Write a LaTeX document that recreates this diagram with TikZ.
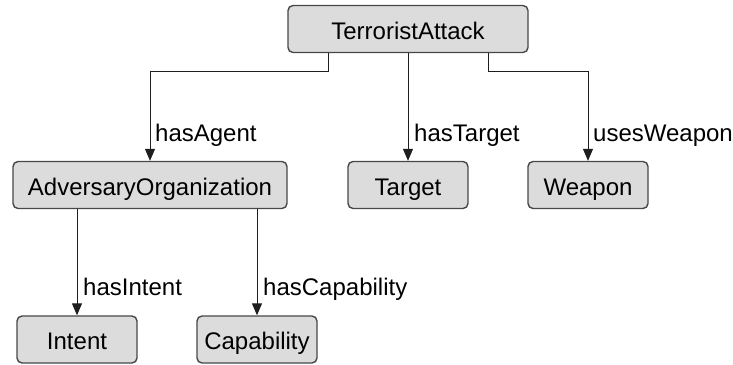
\documentclass[tikz,border=0pt]{standalone}
\usepackage{fontspec}
\setmainfont{Liberation Sans}
\usetikzlibrary{arrows.meta}
\definecolor{boxfill}{HTML}{DCDCDC}
\definecolor{boxline}{HTML}{474747}
\definecolor{relline}{HTML}{1E1E1E}
\begin{document}
\begin{tikzpicture}[x=1pt,y=-1pt,
  cls/.style={draw=boxline, fill=boxfill, line width=1.4pt, rounded corners=5pt,
              minimum height=47pt, inner sep=0pt, text height=25pt, text depth=5pt,
              font=\fontsize{24}{28}\selectfont},
  rel/.style={draw=relline, line width=1pt, -{Triangle[length=12pt,width=10pt]}},
  lbl/.style={font=\fontsize{24}{28}\selectfont, anchor=base west, inner sep=0pt}]
\useasboundingbox (0,0) rectangle (733,364);

% classes
\node[cls, minimum width=240pt] (ta) at (408,29) {TerroristAttack};
\node[cls, minimum width=274pt] (ao) at (150,185) {AdversaryOrganization};
\node[cls, minimum width=120pt] (tg) at (408,185) {Target};
\node[cls, minimum width=120pt] (wp) at (588,185) {Weapon};
\node[cls, minimum width=120pt] (in) at (77,339.5) {Intent};
\node[cls, minimum width=120pt] (cp) at (257,339.5) {Capability};

% bend points of the elbow connectors
\coordinate (bl) at (328,71);
\coordinate (br) at (488,71);

% relations
\draw[rel] (ta.south -| bl) -- (bl) -| (ao.north);
\draw[rel] (ta.south) -- (tg.north);
\draw[rel] (ta.south -| br) -- (br) -| (wp.north);
\draw[rel] (in.north |- ao.south) -- (in.north);
\draw[rel] (cp.north |- ao.south) -- (cp.north);

% relation labels
\node[lbl] (lagent)  at ([xshift=5pt,yshift=19pt]ao.north) {hasAgent};
\node[lbl] (ltarget) at ([xshift=6pt,yshift=19pt]tg.north) {hasTarget};
\node[lbl] (lweapon) at ([xshift=5pt,yshift=19pt]wp.north) {usesWeapon};
\node[lbl] (lintent) at ([xshift=6pt,yshift=20pt]in.north) {hasIntent};
\node[lbl] (lcap)    at ([xshift=6pt,yshift=20pt]cp.north) {hasCapability};
\end{tikzpicture}
\end{document}
